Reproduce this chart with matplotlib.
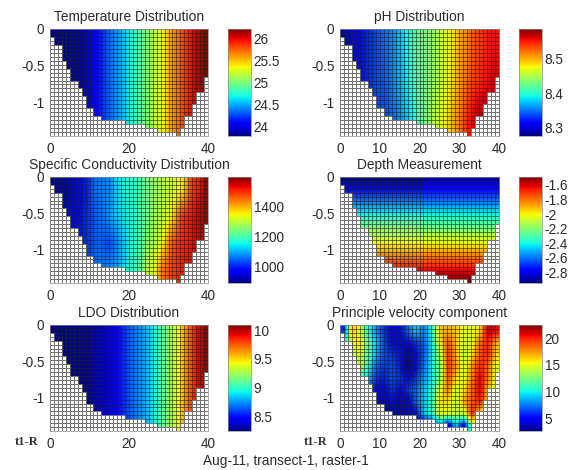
import numpy as np
import matplotlib
matplotlib.use("Agg")
import matplotlib.pyplot as plt

plt.rcParams['font.family'] = ['Liberation Sans', 'DejaVu Sans']

W, H = 571, 470
N_ROWS = 27
DEPTH_MAX = 1.455

# number of wet cells in each of the 40 columns
wet_rows = [2,4,4,8,10,13,13,15,17,20,20,22,22,23,23,23,23,23,23,24,24,24,24,24,25,25,25,26,26,26,26,26,27,25,22,22,19,16,16,12]

temperature = [[23.84,23.84,23.85,23.85,23.86,23.87,23.88,23.90,23.94,23.98,24.03,24.09,24.15,24.22,24.30,24.37,24.44,24.50,24.57,24.64,
                24.70,24.78,24.87,24.95,25.02,25.10,25.20,25.28,25.36,25.45,25.55,25.65,25.72,25.80,25.88,25.95,26.02,26.08,26.14,26.20]]

ph = [[8.285,8.295,8.305,8.31,8.315,8.32,8.325,8.33,8.335,8.34,8.345,8.35,8.355,8.36,8.37,8.38,8.39,8.40,8.41,8.42,
       8.425,8.43,8.435,8.44,8.45,8.46,8.47,8.475,8.485,8.495,8.505,8.51,8.52,8.53,8.535,8.54,8.545,8.55,8.55,8.55],
      [8.29,8.30,8.305,8.31,8.315,8.32,8.325,8.33,8.335,8.34,8.34,8.345,8.35,8.36,8.365,8.375,8.385,8.395,8.405,8.415,
       8.42,8.43,8.435,8.44,8.45,8.46,8.47,8.48,8.49,8.50,8.51,8.52,8.53,8.535,8.54,8.545,8.55,8.555,8.56,8.56],
      [8.29,8.30,8.305,8.31,8.315,8.32,8.325,8.33,8.335,8.335,8.34,8.34,8.345,8.35,8.355,8.365,8.375,8.385,8.395,8.41,
       8.42,8.43,8.44,8.45,8.46,8.47,8.48,8.49,8.50,8.51,8.525,8.54,8.55,8.56,8.57,8.575,8.57,8.57,8.57,8.57]]

conductivity = [[915,920,925,930,935,945,960,975,990,1000,1040,1060,1065,1070,1075,1085,1125,1140,1150,1160,
                 1165,1175,1190,1225,1240,1250,1260,1270,1285,1300,1310,1320,1335,1360,1400,1470,1500,1510,1530,1570],
                [920,925,930,945,955,965,975,985,1000,1010,1030,1045,1055,1060,1075,1100,1120,1130,1140,1150,
                 1150,1175,1195,1215,1240,1255,1265,1280,1295,1315,1340,1390,1450,1490,1505,1515,1525,1540,1560,1575],
                [950,955,960,965,970,975,985,995,1000,1015,1030,1045,1050,1040,1030,1040,1060,1090,1120,1140,
                 1155,1175,1195,1225,1250,1265,1285,1310,1345,1400,1450,1480,1495,1505,1510,1515,1530,1540,1550,1560],
                [960,965,970,975,980,985,990,1000,1005,1030,1050,1065,1070,1070,1075,1085,1095,1110,1130,1150,
                 1165,1190,1215,1250,1280,1310,1345,1400,1440,1460,1480,1490,1500,1510,1520,1520,1520,1520,1520,1520]]

depth_by_row = [[-2.92],[-2.87],[-2.81],[-2.75],[-2.70],[-2.64],[-2.59],[-2.53],[-2.47],[-2.42],[-2.37],[-2.31],[-2.26],[-2.20],
                [-2.15],[-2.09],[-2.03],[-1.98],[-1.92],[-1.86],[-1.81],[-1.75],[-1.70],[-1.64],[-1.58],[-1.53],[-1.49]]

ldo = [[8.28,8.28,8.28,8.28,8.29,8.29,8.29,8.30,8.30,8.30,8.31,8.31,8.32,8.34,8.37,8.40,8.44,8.50,8.55,8.60,
        8.65,8.69,8.73,8.77,8.82,8.87,8.93,9.01,9.10,9.17,9.25,9.33,9.42,9.55,9.65,9.75,9.85,9.93,9.98,10.05]]

# 20 groups of two columns, nine depth bands
velocity = [[ 6.0,16.5,15.0,10.5, 8.0, 6.0, 5.0, 5.0, 7.0, 9.0, 7.5,10.5,16.5,17.0,16.5,15.0,15.0,16.0,21.5,20.5],
            [10.0,15.0,16.0,12.0, 9.0, 6.5, 5.0, 5.0, 5.0, 6.0, 7.0,10.0,15.5,19.0,16.5,14.5,15.0,18.5,20.0,17.0],
            [10.0,14.0,15.0,12.0, 8.5, 6.5, 6.0, 5.5, 3.5, 5.0, 7.0,10.0,14.0,19.5,17.0,14.0,16.0,19.0,20.0,16.0],
            [10.0,14.0,14.0,10.5, 7.0, 6.0, 6.5, 5.5, 3.0, 5.0, 7.5,10.0,13.0,19.5,17.5,14.5,17.5,20.0,18.5,15.0],
            [10.0,12.0,11.0, 9.0, 6.0, 5.5, 6.5, 6.0, 5.0, 6.0, 8.0,10.0,13.0,19.0,16.0,15.0,18.0,21.0,18.0,15.0],
            [10.0,10.0, 9.0, 7.0, 5.0, 5.0, 6.0, 5.0, 6.0, 7.0, 9.0,10.5,15.0,18.0,14.5,16.0,18.5,21.0,16.5,14.0],
            [ 8.0, 8.0, 7.0, 5.0, 4.5, 4.0, 5.0, 4.0, 4.5, 7.0, 9.0,10.5,16.0,16.0,14.0,17.0,19.0,20.0,16.0,14.0],
            [ 5.0, 5.0, 5.0, 5.0, 4.0, 4.0, 3.5, 4.0, 4.0, 5.0, 9.0,11.0,15.0,15.0,14.0,14.5,20.0,16.0,15.0,14.0],
            [ 5.0, 5.0, 5.0, 5.0, 4.0, 4.0, 3.5, 4.0, 4.0, 4.0, 3.5, 4.5, 8.0, 4.0, 9.0, 4.5,13.5,14.0,14.0,14.0]]

titles = ["Temperature Distribution", "pH Distribution", "Specific Conductivity Distribution",
          "Depth Measurement", "LDO Distribution", "Principle velocity component"]
color_limits = [(23.79, 26.22), (8.277, 8.584), (893, 1592), (-2.95, -1.49), (8.24, 10.09), (2.6, 22.5)]
color_ticks = [[24, 24.5, 25, 25.5, 26], [8.3, 8.4, 8.5], [1000, 1200, 1400],
               [-2.8, -2.6, -2.4, -2.2, -2, -1.8, -1.6], [8.5, 9, 9.5, 10], [5, 10, 15, 20]]
color_labels = [["24", "24.5", "25", "25.5", "26"], ["8.3", "8.4", "8.5"], ["1000", "1200", "1400"],
                ["-2.8", "-2.6", "-2.4", "-2.2", "-2", "-1.8", "-1.6"], ["8.5", "9", "9.5", "10"], ["5", "10", "15", "20"]]
x_ticks = [[0, 20, 40], [0, 10, 20, 30, 40], [0, 20, 40], [0, 10, 20, 30, 40], [0, 20, 40], [0, 10, 20, 30, 40]]
y_ticks = [0, -0.5, -1]
y_labels = ["0", "-0.5", "-1"]

tables = [temperature, ph, conductivity, depth_by_row, ldo, velocity]

# boxes in pixels
ax_x = [(50, 208), (340, 499)]
cb_x = [(228, 251), (518.5, 542)]
ax_y = [(29, 136), (177, 283), (325, 431)]

x_edges = np.arange(41)
y_edges = np.linspace(0, -DEPTH_MAX, N_ROWS + 1)

dry = np.ones((N_ROWS, 40), bool)
for c, n in enumerate(wet_rows):
    dry[:n, c] = False

# overlay: white opaque dry cells, clear wet cells; dark grid, weaker over the wet cells
face = np.zeros((N_ROWS, 40, 4))
face[..., :3] = 1.0
face[..., 3] = dry.astype(float)
edge = np.zeros((N_ROWS * 40, 4))
edge[:, :3] = 0.12
edge[:, 3] = np.where(dry.ravel(), 0.62, 0.34)

TXT = '#2b2b2b'
SPINE = '#8a8a8a'
FS_T = 9.9
FS = 9.8

fig = plt.figure(figsize=(W / 100, H / 100), dpi=100)

def box(x0, x1, y0, y1):
    return [x0 / W, 1 - y1 / H, (x1 - x0) / W, (y1 - y0) / H]

for i in range(6):
    r, c = i // 2, i % 2
    ax = fig.add_axes(box(*ax_x[c], *ax_y[r]))
    vmin, vmax = color_limits[i]
    m = ax.imshow(np.array(tables[i], float), cmap='jet', vmin=vmin, vmax=vmax, aspect='auto',
                  origin='upper', extent=(0, 40, -DEPTH_MAX, 0), interpolation='bilinear')
    ax.pcolormesh(x_edges, y_edges, face, edgecolors=edge, linewidth=0.6)
    ax.set_xlim(0, 40)
    ax.set_ylim(-DEPTH_MAX, 0)
    ax.set_xticks(x_ticks[i])
    ax.set_yticks(y_ticks)
    ax.set_yticklabels(y_labels)
    ax.tick_params(length=0, labelsize=FS, colors=TXT, pad=4)
    for s in ax.spines.values():
        s.set_color(SPINE)
        s.set_linewidth(0.5)
    ax.text(0.5, 1.05, titles[i], transform=ax.transAxes, ha='center', va='bottom', fontsize=FS_T, color=TXT)

    cax = fig.add_axes(box(*cb_x[c], *ax_y[r]))
    cb = fig.colorbar(m, cax=cax)
    cb.set_ticks(color_ticks[i])
    cb.set_ticklabels(color_labels[i])
    cb.ax.tick_params(length=0, labelsize=FS, colors=TXT, pad=2)
    cb.outline.set_edgecolor(SPINE)
    cb.outline.set_linewidth(0.5)

for x in (27, 316):
    fig.text(x / W, 1 - 442 / H, "t1-R", ha='center', va='center', fontsize=9,
             fontweight='bold', family=['Liberation Serif'], color='#333333')
fig.text(285.5 / W, 1 - 461 / H, "Aug-11, transect-1, raster-1", ha='center', va='center', fontsize=9.8, color=TXT)

fig.savefig("out.png", dpi=100)
